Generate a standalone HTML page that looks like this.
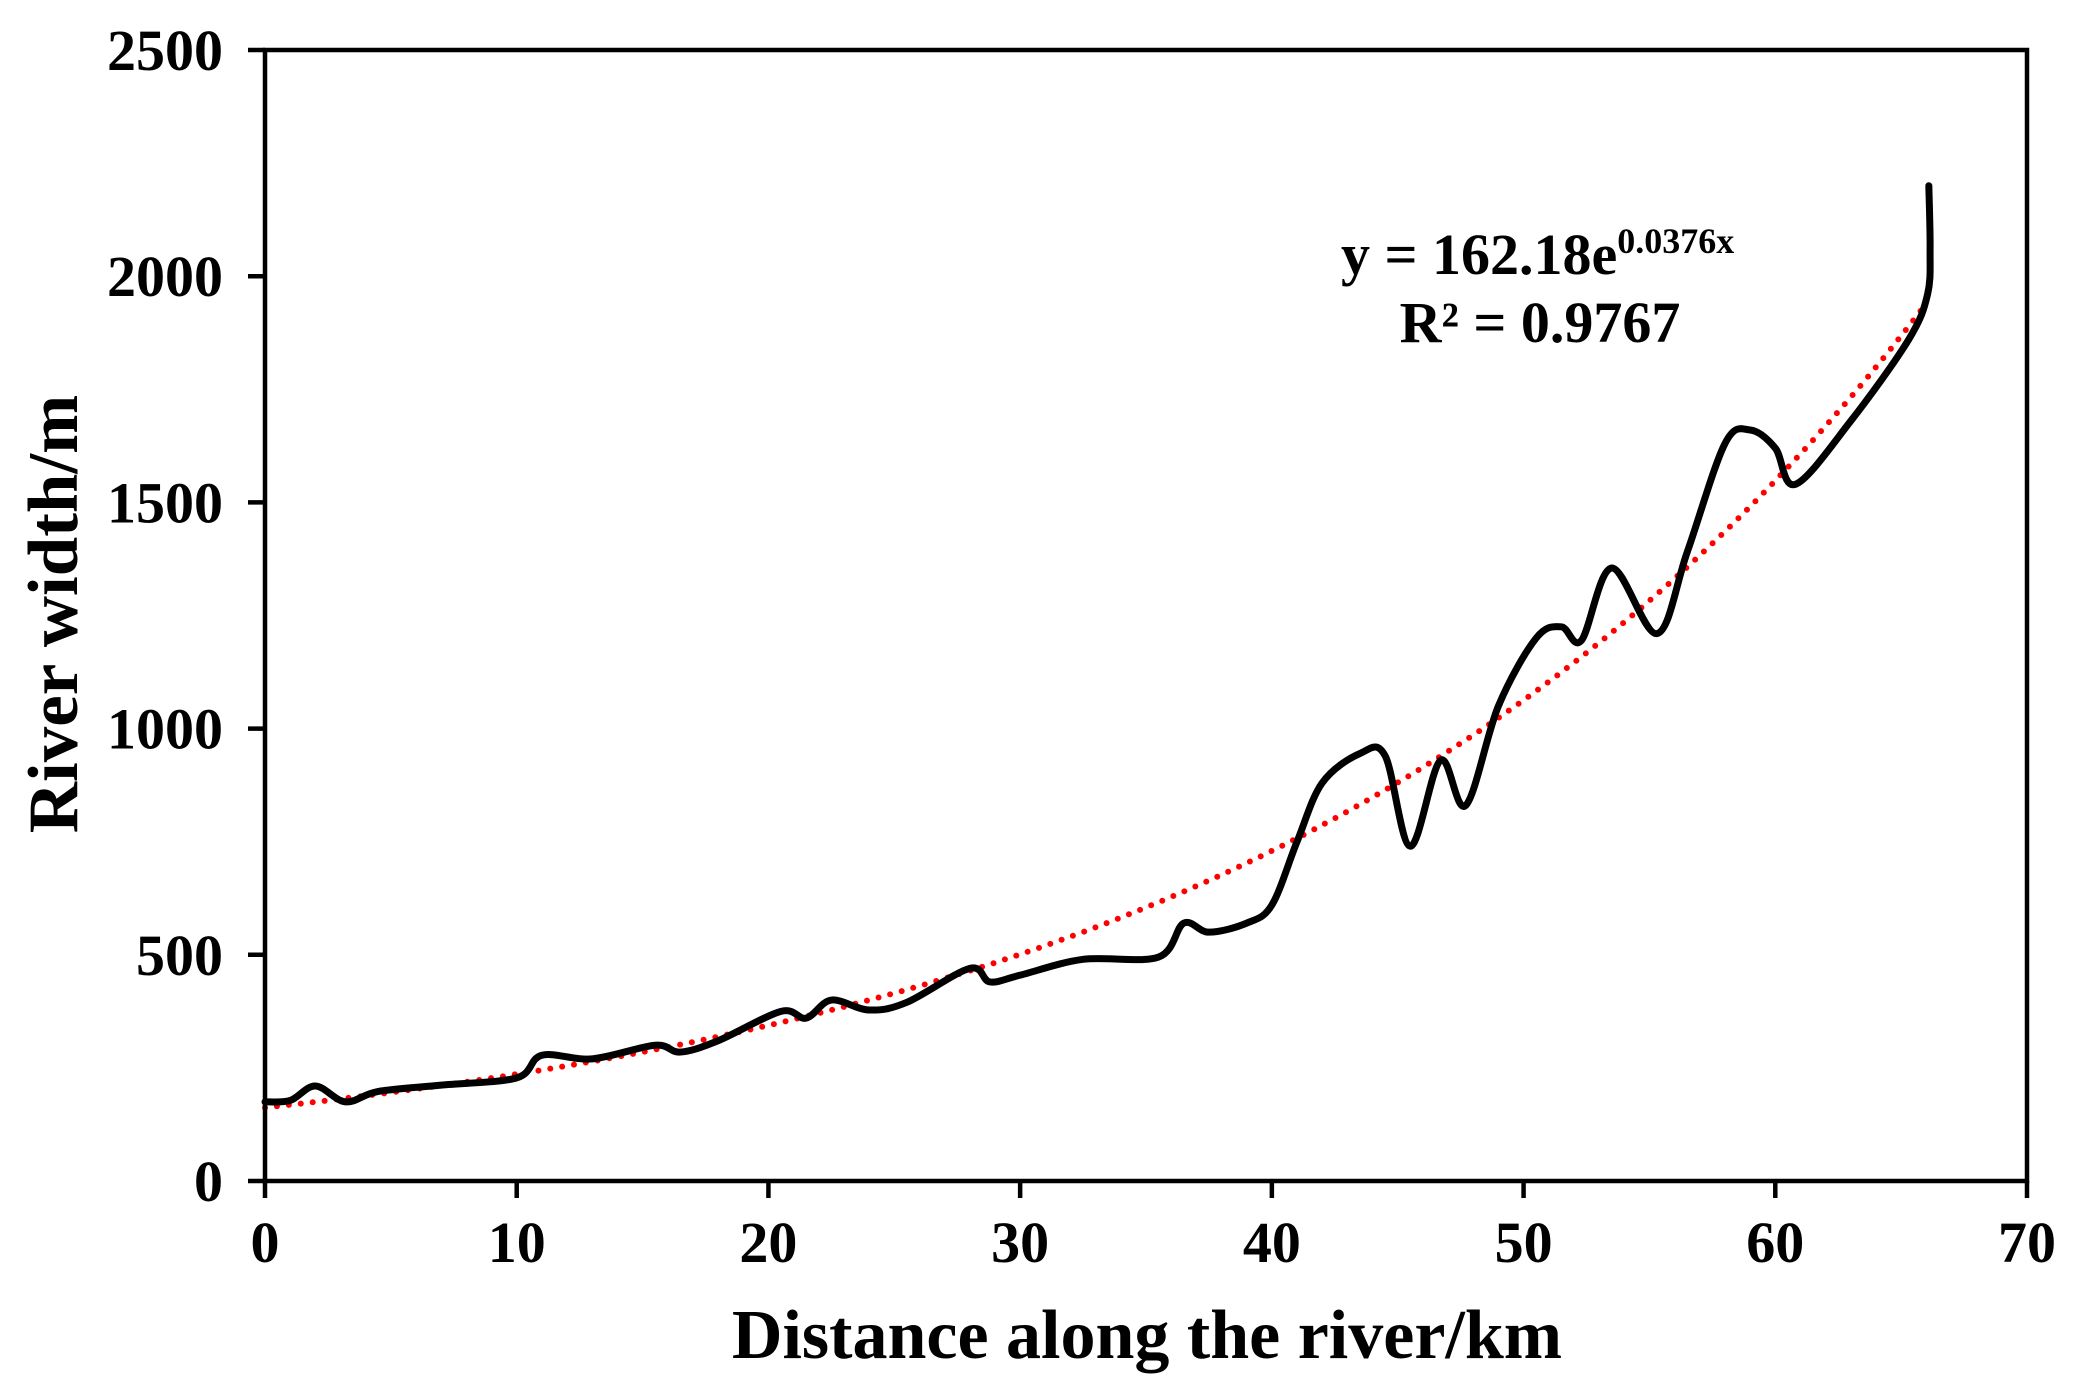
<!DOCTYPE html>
<html><head><meta charset="utf-8"><style>
html,body{margin:0;padding:0;background:#fff;}
svg{display:block;font-family:"Liberation Serif",serif;font-weight:bold;}
</style></head><body>
<svg id="chart" width="2080" height="1400" viewBox="0 0 2080 1400" xmlns="http://www.w3.org/2000/svg">
<g id="plot"></g>
<text x="1147" y="1358" font-size="70" text-anchor="middle">Distance along the river/km</text>
<text transform="translate(77,614) rotate(-90)" font-size="71" text-anchor="middle">River width/m</text>
<text x="1341" y="274" font-size="58">y = 162.18e<tspan font-size="36" dy="-21">0.0376x</tspan></text>
<text x="1540" y="342" font-size="58" text-anchor="middle">R² = 0.9767</text>
</svg>
<script>
const distances = [0,1,2,3.2,4.5,7,10,11,13,15.5,16.5,18,20.5,21.5,22.5,24,25.5,28,28.8,30,32.5,35.5,36.5,37.5,39,40,41,42,43.5,44.5,45.5,46.7,47.7,49,50.5,51.5,52.3,53.5,55.3,56.5,58,59,60,60.8,63,65.3,66.05,66.15,66.1];
const widths = [175,178,210,175,198,212,228,278,270,300,285,310,375,360,400,378,395,470,440,455,490,495,570,550,570,610,750,880,945,940,740,930,830,1050,1200,1225,1195,1355,1210,1390,1630,1660,1620,1540,1680,1860,1960,2060,2200];
const xTicks = [0,10,20,30,40,50,60,70];
const yTicks = [0,500,1000,1500,2000,2500];
const trendA = 162.18, trendB = 0.0376, trendMax = 66;

const L=265,R=2027,T=50,B=1181;
const sx=v=>L+(v-0)/(70-0)*(R-L);
const sy=v=>B-(v-0)/(2500-0)*(B-T);
const NS='http://www.w3.org/2000/svg';
const g=document.getElementById('plot');
function mk(tag,attrs){const e=document.createElementNS(NS,tag);for(const k in attrs)e.setAttribute(k,attrs[k]);g.appendChild(e);return e;}

let td='';
for(let i=0;i<=200;i++){const x=trendMax*i/200;td+=(i?'L':'M')+sx(x).toFixed(1)+','+sy(trendA*Math.exp(trendB*x)).toFixed(1);}
const tl=mk('path',{d:td,fill:'none',stroke:'#ff0000','stroke-width':6,'stroke-dasharray':'0 12','stroke-linecap':'round'});



const P=distances.map((d,i)=>[sx(d),sy(widths[i])]);
let d='M'+P[0][0]+','+P[0][1];
for(let i=0;i<P.length-1;i++){
 const p0=P[Math.max(0,i-1)],p1=P[i],p2=P[i+1],p3=P[Math.min(P.length-1,i+2)];
 const c1=[p1[0]+(p2[0]-p0[0])/6,p1[1]+(p2[1]-p0[1])/6];
 const c2=[p2[0]-(p3[0]-p1[0])/6,p2[1]-(p3[1]-p1[1])/6];
 d+='C'+c1.join(',')+' '+c2.join(',')+' '+p2.join(',');
}
const dl=mk('path',{d:d,fill:'none',stroke:'#000','stroke-width':7,'stroke-linejoin':'round','stroke-linecap':'round'});



const fr=mk('rect',{x:L,y:T,width:R-L,height:B-T,fill:'none',stroke:'#000','stroke-width':4.5});



xTicks.forEach(v=>{
 const t=mk('line',{x1:sx(v),x2:sx(v),y1:B,y2:B+17,stroke:'#000','stroke-width':4.5});
 
 
 const l=mk('text',{x:sx(v),y:B+81,'font-size':58,'text-anchor':'middle'});
 l.textContent=v;
 
 
});
yTicks.forEach(v=>{
 const t=mk('line',{x1:L-17,x2:L,y1:sy(v),y2:sy(v),stroke:'#000','stroke-width':4.5});
 
 
 const l=mk('text',{x:L-42,y:sy(v)+20,'font-size':58,'text-anchor':'end'});
 l.textContent=v;
 
 
});
</script>
</body></html>
